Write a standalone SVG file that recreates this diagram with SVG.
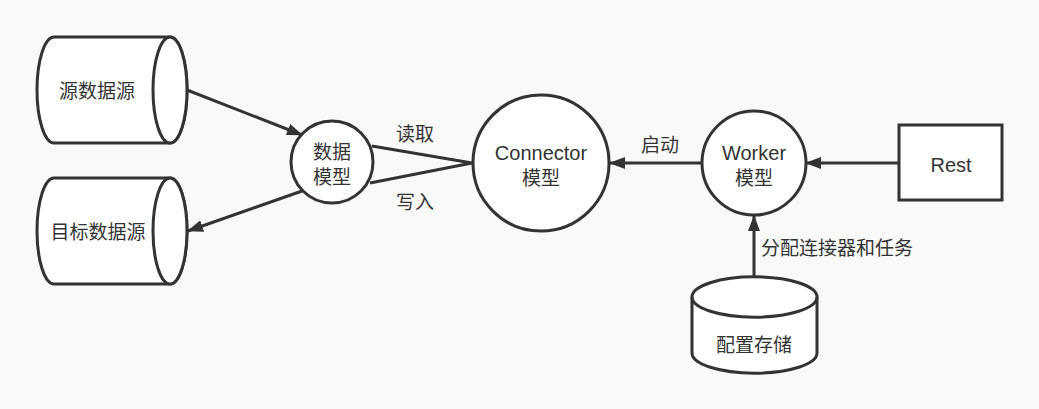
<svg xmlns="http://www.w3.org/2000/svg" width="1039" height="409" viewBox="0 0 1039 409">
<defs>
<style>
.s{fill:#fff;stroke:#333;stroke-width:3}
.l{fill:none;stroke:#333;stroke-width:3}
.t{font-family:"Liberation Sans","Noto Sans CJK SC",sans-serif;font-size:19px;fill:#333;text-anchor:middle}
.e{font-size:20px}
.ts{text-anchor:start}
</style>
<marker id="a" viewBox="0 0 16 12" refX="15" refY="6" markerWidth="16" markerHeight="12" markerUnits="userSpaceOnUse" orient="auto">
<path d="M0,0 L16,6 L0,12 Z" fill="#333"/>
</marker>
</defs>
<rect width="1039" height="409" fill="#f9f9f9"/>
<g id="src">
<path class="s" d="M54,37 L170,37 A17,53 0 0 1 170,143 L54,143 A17,53 0 0 1 54,37 Z"/>
<ellipse class="s" cx="170" cy="90" rx="17" ry="53"/>
<text class="t" x="97" y="98">源数据源</text>
</g>
<g id="dst">
<path class="s" d="M54,178 L170,178 A17,53 0 0 1 170,284 L54,284 A17,53 0 0 1 54,178 Z"/>
<ellipse class="s" cx="170" cy="231" rx="17" ry="53"/>
<text class="t" x="98" y="239">目标数据源</text>
</g>
<g id="datamodel">
<circle class="s" cx="332" cy="162" r="41"/>
<text class="t" x="332" y="159">数据</text>
<text class="t" x="332" y="184">模型</text>
</g>
<g id="connector">
<circle class="s" cx="541" cy="163" r="68"/>
<text class="t e" x="541" y="160">Connector</text>
<text class="t" x="541" y="185">模型</text>
</g>
<g id="worker">
<circle class="s" cx="754" cy="163" r="52"/>
<text class="t e" x="754" y="160">Worker</text>
<text class="t" x="754" y="185">模型</text>
</g>
<g id="rest">
<rect class="s" x="899" y="125" width="103" height="75"/>
<text class="t e" x="951" y="172">Rest</text>
</g>
<g id="config">
<path class="s" d="M692,297 A62,20 0 0 1 817,297 L817,353 A62,20 0 0 1 692,353 Z"/>
<path class="l" d="M692,297 A62,20 0 0 0 817,297"/>
<text class="t" x="754" y="352">配置存储</text>
</g>
<g id="connectors">
<line class="l" x1="187" y1="90" x2="302" y2="135" marker-end="url(#a)"/>
<line class="l" x1="302" y1="191" x2="188" y2="231" marker-end="url(#a)"/>
<line class="l" x1="372" y1="146" x2="472" y2="163"/>
<line class="l" x1="370" y1="183" x2="472" y2="163"/>
<line class="l" x1="702" y1="163" x2="610" y2="163" marker-end="url(#a)"/>
<line class="l" x1="899" y1="163" x2="806" y2="163" marker-end="url(#a)"/>
<line class="l" x1="754" y1="277" x2="754" y2="216" marker-end="url(#a)"/>
<text class="t" x="415" y="141">读取</text>
<text class="t" x="415" y="209">写入</text>
<text class="t" x="660" y="152">启动</text>
<text class="t ts" x="761" y="255">分配连接器和任务</text>
</g>
</svg>
